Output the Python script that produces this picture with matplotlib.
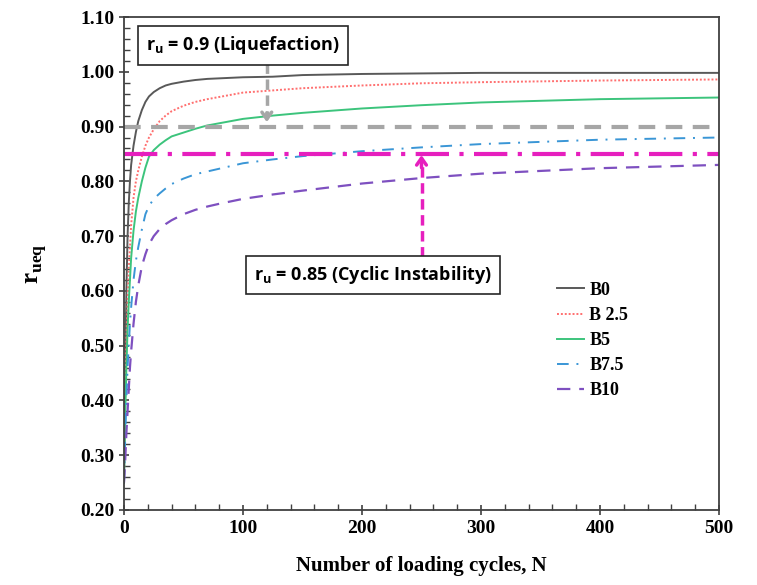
import matplotlib
matplotlib.use('Agg')
import matplotlib.pyplot as plt
from matplotlib.ticker import MultipleLocator

# data
cycles = [0, 1, 2, 3, 4, 5, 6, 8, 10, 12, 15, 18, 21, 25, 30, 35, 40, 50, 60, 70, 80,
          100, 125, 150, 200, 250, 300, 400, 500]
b0 = [0.25, 0.45, 0.60, 0.70, 0.76, 0.80, 0.83, 0.865, 0.89, 0.91, 0.93, 0.945, 0.955,
      0.963, 0.970, 0.975, 0.978, 0.982, 0.985, 0.987, 0.988, 0.990, 0.991, 0.994,
      0.996, 0.997, 0.998, 0.998, 0.998]
b25 = [0.25, 0.40, 0.51, 0.58, 0.64, 0.68, 0.72, 0.77, 0.80, 0.82, 0.845, 0.865, 0.88,
       0.895, 0.91, 0.92, 0.928, 0.938, 0.945, 0.950, 0.954, 0.962, 0.966, 0.970,
       0.975, 0.979, 0.981, 0.984, 0.986]
b5 = [0.25, 0.37, 0.46, 0.53, 0.58, 0.62, 0.66, 0.71, 0.745, 0.77, 0.80, 0.825, 0.845,
      0.857, 0.867, 0.875, 0.882, 0.889, 0.896, 0.902, 0.906, 0.914, 0.920, 0.925,
      0.933, 0.939, 0.944, 0.950, 0.953]
b75 = [0.25, 0.33, 0.40, 0.46, 0.50, 0.54, 0.57, 0.62, 0.655, 0.68, 0.712, 0.74, 0.755,
       0.768, 0.778, 0.787, 0.795, 0.805, 0.813, 0.818, 0.823, 0.833, 0.840, 0.846,
       0.855, 0.862, 0.868, 0.876, 0.880]
b10 = [0.25, 0.29, 0.34, 0.38, 0.42, 0.46, 0.49, 0.54, 0.58, 0.61, 0.645, 0.667, 0.685,
       0.70, 0.713, 0.722, 0.729, 0.740, 0.748, 0.754, 0.759, 0.768, 0.776, 0.783,
       0.796, 0.806, 0.814, 0.824, 0.830]
labels = ['B0', 'B 2.5', 'B5', 'B7.5', 'B10']

ru_liq = 0.90
ru_cyc = 0.85

serif = {'family': 'Liberation Serif', 'weight': 'bold'}

fig = plt.figure(figsize=(7.57, 5.85), dpi=100)
ax = fig.add_axes([124/757, 75/585, 595/757, 493/585])

ax.plot(cycles, b0, color='#595959', lw=1.4, ls='-', label=labels[0])
ax.plot(cycles, b25, color='#ff6f6f', lw=1.4, ls=(0, (1, 1)), label=labels[1])
ax.plot(cycles, b5, color='#3cc47c', lw=1.4, ls='-', label=labels[2])
ax.plot(cycles, b75, color='#3a96d6', lw=1.4, ls=(0, (6, 4, 1, 4)), label=labels[3])
ax.plot(cycles, b10, color='#7e50c0', lw=1.6, ls=(0, (6, 4)), label=labels[4])

# threshold lines
ax.axhline(ru_liq, color='#a6a6a6', lw=3, ls=(0, (4, 2.5)))
ax.axhline(ru_cyc, color='#e61fbe', lw=3, ls=(0, (8, 2.5, 1, 2.5)))

# annotation boxes with arrows
box = dict(boxstyle='square,pad=0.45', fc='white', ec='#262626', lw=1.2)
ax.text(100, 1.048, r'r$_\mathregular{u}$ = 0.9 (Liquefaction)', ha='center', va='center',
        fontsize=13, family='Open Sans', weight='bold', bbox=box)
ax.plot([120, 120], [1.016, 0.915], color='#a6a6a6', lw=2.5, ls=(0, (3, 1.6)))
ax.annotate('', xy=(120, 0.903), xytext=(120, 0.93),
            arrowprops=dict(arrowstyle='->,head_length=0.5,head_width=0.35',
                            color='#a6a6a6', lw=2.5))

ax.text(209, 0.629, r'r$_\mathregular{u}$ = 0.85 (Cyclic Instability)', ha='center', va='center',
        fontsize=13, family='Open Sans', weight='bold', bbox=box)
ax.plot([250, 250], [0.662, 0.835], color='#e61fbe', lw=2.5, ls=(0, (3, 1.6)))
ax.annotate('', xy=(250, 0.853), xytext=(250, 0.82),
            arrowprops=dict(arrowstyle='->,head_length=0.5,head_width=0.35',
                            color='#e61fbe', lw=2.5))

ax.set_xlim(0, 500)
ax.set_ylim(0.20, 1.10)
ax.xaxis.set_major_locator(MultipleLocator(100))
ax.xaxis.set_minor_locator(MultipleLocator(20))
ax.yaxis.set_major_locator(MultipleLocator(0.1))
ax.yaxis.set_minor_locator(MultipleLocator(0.02))
ax.yaxis.set_major_formatter(plt.FormatStrFormatter('%.2f'))
ax.tick_params(which='major', direction='inout', length=7, width=1.2, color='#404040')
ax.tick_params(which='minor', direction='in', length=4, width=1.0, color='#404040')
for t in ax.get_xticklabels() + ax.get_yticklabels():
    t.set_fontproperties(serif)
    t.set_fontsize(14)
for s in ax.spines.values():
    s.set_color('#404040')
    s.set_linewidth(1.3)

ax.set_xlabel('Number of loading cycles, N', fontdict=serif, fontsize=15, labelpad=14)
ax.set_ylabel(r'r$_\mathregular{ueq}$', fontdict=serif, fontsize=18, labelpad=22)

leg = ax.legend(loc='upper left', bbox_to_anchor=(0.70, 0.496), frameon=False,
                prop={'family': 'Liberation Serif', 'weight': 'bold', 'size': 13},
                handlelength=1.5, labelspacing=0.45, handletextpad=0.3)

fig.savefig('out.png', dpi=100)
